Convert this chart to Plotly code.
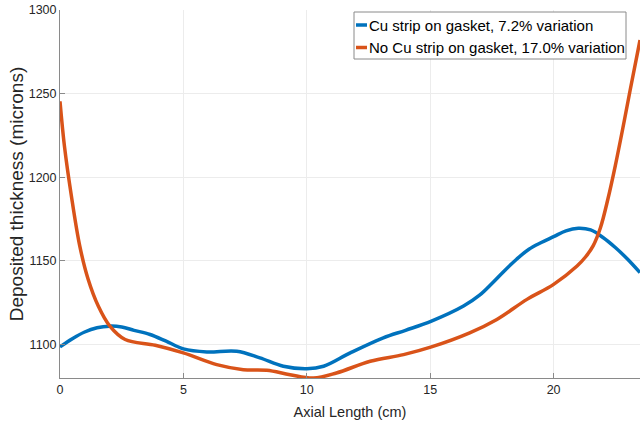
import plotly.graph_objects as go

# Axial position (cm) and deposited thickness (microns) for each configuration
x_cu = [0, 0.5, 1, 1.5, 2, 2.5, 3, 3.65, 4.3, 5, 5.95, 7.16, 8.1, 9.05, 10, 10.68,
        11.76, 13.1, 14, 15.05, 16.35, 17.0, 17.5, 18, 18.5, 19, 19.5, 20, 20.5,
        21, 21.5, 22, 22.5, 23, 23.5]
y_cu = [1098.6, 1103.5, 1107.5, 1110, 1111, 1110.5, 1108.5, 1106, 1102, 1097.4,
        1095.6, 1096, 1092, 1087, 1085.5, 1087, 1095, 1104, 1108.5, 1114, 1123,
        1129.5, 1136.5, 1144, 1151, 1157, 1161, 1164.5, 1168, 1169.5, 1168.5, 1164,
        1158, 1151, 1143]

x_nocu = [0, 0.18, 0.46, 0.8, 1.14, 1.55, 2.02, 2.64, 3.86, 5.0, 6.35, 7.43, 8.38,
          9.32, 10.27, 11.2, 12.57, 13.92, 15.05, 16.6, 17.7, 18.92, 20, 20.95,
          21.3, 21.6, 21.9, 22.2, 22.5, 22.8, 23.1, 23.5]
y_nocu = [1245.4, 1218.6, 1189, 1159, 1139, 1123, 1111, 1103, 1099.6, 1095, 1088,
          1085, 1084.6, 1082, 1080, 1083, 1090, 1094, 1098.6, 1107, 1115, 1127,
          1136, 1147, 1152.5, 1159, 1170, 1187, 1207, 1229, 1252, 1282]

labels = ["Cu strip on gasket, 7.2% variation",
          "No Cu strip on gasket, 17.0% variation"]
colors = ["#0072BD", "#D95319"]

x_ticks = [0, 5, 10, 15, 20]
y_ticks = [1100, 1150, 1200, 1250, 1300]

FONT = "Liberation Sans, Arial, Helvetica, sans-serif"
W, H = 640, 429
ML, MR, MT, MB = 60, 0, 10, 51
PW, PH = W - ML - MR, H - MT - MB


def paper_x(pxv):
    return (pxv - ML) / PW


def paper_y(pyv):
    return (H - MB - pyv) / PH


fig = go.Figure()
for xs, ys, name, c in [(x_cu, y_cu, labels[0], colors[0]),
                        (x_nocu, y_nocu, labels[1], colors[1])]:
    fig.add_trace(go.Scatter(x=xs, y=ys, name=name, mode="lines",
                             line=dict(color=c, width=3.5, shape="spline",
                                       smoothing=1.0),
                             showlegend=False))

axis_common = dict(showline=True, linecolor="#8a8a8a", linewidth=1,
                   ticks="inside", ticklen=5, tickcolor="#8a8a8a",
                   showgrid=True, gridcolor="#ececec", gridwidth=1,
                   zeroline=False, tickfont=dict(family=FONT, size=12.5,
                                                 color="#262626"))

fig.update_layout(
    width=W, height=H,
    margin=dict(l=ML, r=MR, t=MT, b=MB),
    plot_bgcolor="white", paper_bgcolor="white",
    font=dict(family=FONT, color="#262626"),
    xaxis=dict(range=[0, 23.5], tickvals=x_ticks, **axis_common,
               title=dict(text="Axial Length (cm)",
                          font=dict(family=FONT, size=14.5, color="#262626"),
                          standoff=10)),
    yaxis=dict(range=[1080, 1300], tickvals=y_ticks, **axis_common,
               title=dict(text="Deposited thickness (microns)",
                          font=dict(family=FONT, size=19, color="#262626"),
                          standoff=0)),
)

# Boxed legend in the upper right corner
fig.add_shape(type="rect", xref="paper", yref="paper",
              x0=paper_x(354), x1=paper_x(626),
              y0=paper_y(59), y1=paper_y(12),
              line=dict(color="#8a8a8a", width=1), fillcolor="white",
              layer="above")
for i, (name, c) in enumerate(zip(labels, colors)):
    yp = paper_y(25 + i * 22.5)
    fig.add_shape(type="line", xref="paper", yref="paper",
                  x0=paper_x(356), x1=paper_x(367), y0=yp, y1=yp,
                  line=dict(color=c, width=3.5), layer="above")
    fig.add_annotation(x=paper_x(367), y=yp, xref="paper", yref="paper",
                       text=name, showarrow=False, xanchor="left",
                       yanchor="middle",
                       font=dict(family=FONT, size=15, color="black"))

fig.write_html("out.html")
